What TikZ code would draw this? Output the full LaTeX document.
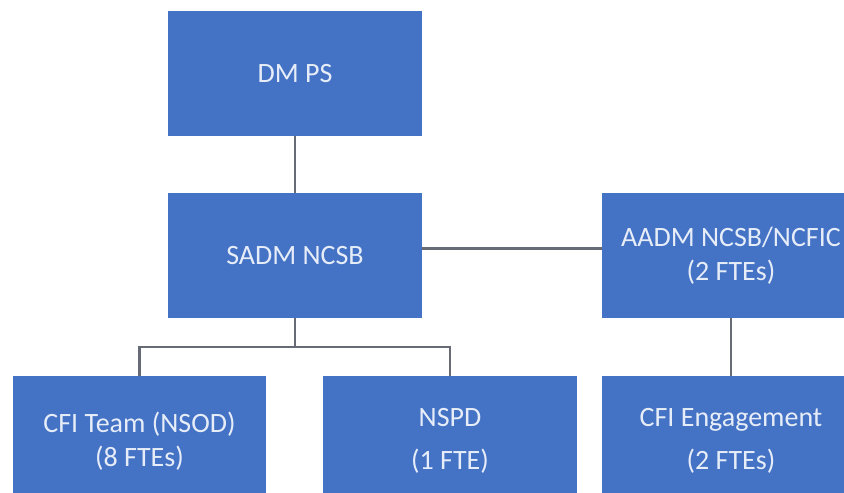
\documentclass[tikz,border=0pt]{standalone}
\usepackage{fontspec}
\setmainfont{Carlito}
\definecolor{boxblue}{HTML}{4472C4}
\definecolor{boxtext}{HTML}{E6EDF8}
\definecolor{linegray}{HTML}{666B76}
\tikzset{
  orgbox/.style={rectangle, fill=boxblue, draw=none, minimum width=254pt, minimum height=125pt,
    inner sep=0pt, text=boxtext, align=center, font=\fontsize{28}{34}\selectfont},
  orgline/.style={draw=linegray, line width=2.4pt}
}
\begin{document}
\begin{tikzpicture}[x=1pt,y=-1pt]
\useasboundingbox (0,0) rectangle (844,493);
\fill[white] (0,0) rectangle (844,493);
\begin{scope}
\clip (0,0) rectangle (844,493);
\node[orgbox] (dm) at (295,73.5) {DM PS};
\node[orgbox] (sadm) at (295,255.5) {SADM NCSB};
\node[orgbox, minimum width=258pt] (aadm) at (731,255.5) {AADM NCSB/NCFIC\\(2 FTEs)};
\node[orgbox, minimum width=253pt, minimum height=130pt] (cfit) at (139.5,441) {CFI Team (NSOD)\\(8 FTEs)};
\node[orgbox, minimum height=130pt] (nspd) at (450,441) {NSPD\\[9pt](1 FTE)};
\node[orgbox, minimum width=258pt, minimum height=130pt] (cfie) at (731,441) {CFI Engagement\\[9pt](2 FTEs)};
\draw[orgline] (dm.south) -- (sadm.north);
\draw[orgline] ([yshift=7pt]sadm.east) -- ([yshift=7pt]aadm.west);
\draw[orgline] (aadm.south) -- (cfie.north);
\draw[orgline] (sadm.south) -- ++(0,29) -| (cfit.north);
\draw[orgline] (sadm.south) -- ++(0,29) -| (nspd.north);
\end{scope}
\end{tikzpicture}
\end{document}
